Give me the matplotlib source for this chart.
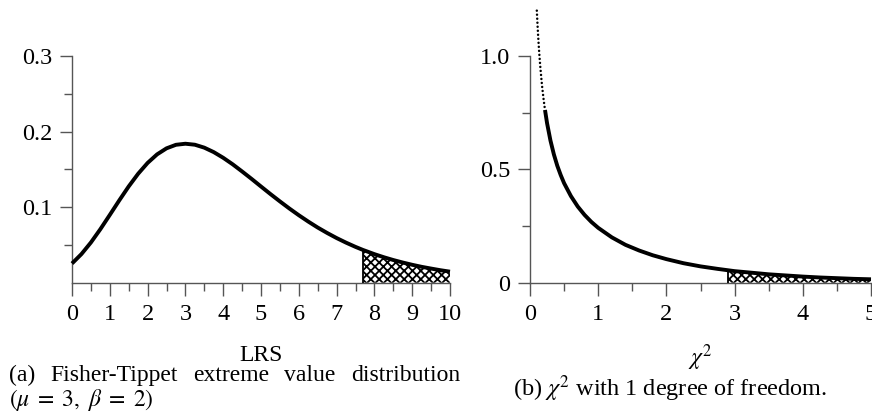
import matplotlib
matplotlib.use('Agg')
import matplotlib.pyplot as plt
from matplotlib.ticker import FixedLocator

plt.rcParams['font.family'] = ['Liberation Serif', 'DejaVu Serif']
plt.rcParams['mathtext.fontset'] = 'stix'
plt.rcParams['hatch.linewidth'] = 1.3

# ---------------- data ----------------
lrs_x = [0, 0.25, 0.5, 0.75, 1, 1.25, 1.5, 1.75, 2, 2.25, 2.5, 2.75, 3, 3.25,
         3.5, 3.75, 4, 4.25, 4.5, 4.75, 5, 5.25, 5.5, 5.75, 6, 6.25, 6.5, 6.75,
         7, 7.25, 7.5, 7.7, 7.75, 8, 8.25, 8.5, 8.75, 9, 9.25, 9.5, 9.75, 10]
lrs_density = [0.0254, 0.0379, 0.0532, 0.0708, 0.0897, 0.1089, 0.1274, 0.1442,
               0.1585, 0.1698, 0.1778, 0.1825, 0.1839, 0.1826, 0.1787, 0.1728,
               0.1653, 0.1567, 0.1472, 0.1374, 0.1273, 0.1173, 0.1076, 0.0982,
               0.0893, 0.0809, 0.0730, 0.0658, 0.0591, 0.0530, 0.0474, 0.0433,
               0.0424, 0.0378, 0.0337, 0.0300, 0.0267, 0.0237, 0.0210, 0.0187,
               0.0165, 0.0146]
lrs_threshold = 7.7
lrs_xticks = list(range(0, 11))
lrs_yticks = [0.1, 0.2, 0.3]
lrs_yticklabels = ['0.1', '0.2', '0.3']

chi_x = [0.10, 0.11, 0.12, 0.13, 0.14, 0.15, 0.17, 0.18, 0.20, 0.22, 0.25, 0.30,
         0.35, 0.40, 0.45, 0.5, 0.6, 0.7, 0.8, 0.9, 1.0, 1.2, 1.4, 1.6, 1.8,
         2.0, 2.25, 2.5, 2.75, 2.9, 3.0, 3.25, 3.5, 3.75, 4.0, 4.25, 4.5, 4.75, 5.0]
chi_density = [1.200, 1.139, 1.085, 1.037, 0.994, 0.956, 0.889, 0.859, 0.807,
               0.762, 0.704, 0.627, 0.566, 0.516, 0.475, 0.439, 0.382, 0.336,
               0.299, 0.268, 0.242, 0.200, 0.167, 0.142, 0.121, 0.104, 0.086,
               0.072, 0.061, 0.055, 0.051, 0.044, 0.037, 0.032, 0.027, 0.023,
               0.020, 0.017, 0.015]
chi_threshold = 2.9
chi_dotted_until = 0.22
chi_xticks = list(range(0, 6))
chi_yticks = [0, 0.5, 1.0]
chi_yticklabels = ['0', '0.5', '1.0']

# ---------------- layout ----------------
W, H = 872, 416
fig = plt.figure(figsize=(W / 100, H / 100), dpi=100)


def rect(l, t, r, b):
    return [l / W, 1 - b / H, (r - l) / W, (b - t) / H]


ax1 = fig.add_axes(rect(72, 56, 450, 282.7))
ax2 = fig.add_axes(rect(530, 56, 871, 282.7))

SPINE = '#555555'
TICKFS = 17.5
HATCH = 'xxxx'


def style(ax):
    for s in ('top', 'right'):
        ax.spines[s].set_visible(False)
    for s in ('left', 'bottom'):
        ax.spines[s].set_color(SPINE)
        ax.spines[s].set_linewidth(1.0)
    ax.tick_params(which='both', direction='out', color=SPINE, width=1.0,
                   labelsize=TICKFS, labelcolor='black')
    ax.tick_params(which='major', length=9)
    ax.tick_params(which='minor', length=5.5)
    ax.tick_params(axis='x', pad=6)
    ax.tick_params(axis='y', pad=5)
    ax.patch.set_alpha(0)


# ---- panel (a)
style(ax1)
ax1.set_xlim(0, 10)
ax1.set_ylim(0, 0.3)
ax1.xaxis.set_major_locator(FixedLocator(lrs_xticks))
ax1.set_xticklabels([str(t) for t in lrs_xticks])
ax1.xaxis.set_minor_locator(FixedLocator([t + 0.5 for t in lrs_xticks[:-1]]))
ax1.yaxis.set_major_locator(FixedLocator(lrs_yticks))
ax1.set_yticklabels(lrs_yticklabels)
ax1.yaxis.set_minor_locator(FixedLocator([0.05, 0.15, 0.25]))

sx = [x for x in lrs_x if x >= lrs_threshold]
sy = [y for x, y in zip(lrs_x, lrs_density) if x >= lrs_threshold]
ax1.fill_between(sx, 0, sy, facecolor='white', edgecolor='black',
                 hatch=HATCH, linewidth=0, zorder=2)
ax1.plot([sx[0], sx[0]], [0, sy[0]], color='black', lw=1.3, zorder=3)
ax1.plot(lrs_x, lrs_density, color='black', lw=2.8, zorder=4,
         solid_capstyle='butt', clip_on=False)

# ---- panel (b)
style(ax2)
ax2.set_xlim(0, 5)
ax2.set_ylim(0, 1.0)
ax2.xaxis.set_major_locator(FixedLocator(chi_xticks))
ax2.set_xticklabels([str(t) for t in chi_xticks])
ax2.xaxis.set_minor_locator(FixedLocator([t + 0.5 for t in chi_xticks[:-1]]))
ax2.yaxis.set_major_locator(FixedLocator(chi_yticks))
ax2.set_yticklabels(chi_yticklabels)
ax2.yaxis.set_minor_locator(FixedLocator([0.25, 0.75]))

sx = [x for x in chi_x if x >= chi_threshold]
sy = [y for x, y in zip(chi_x, chi_density) if x >= chi_threshold]
ax2.fill_between(sx, 0, sy, facecolor='white', edgecolor='black',
                 hatch=HATCH, linewidth=0, zorder=2)
ax2.plot([sx[0], sx[0]], [0, sy[0]], color='black', lw=1.3, zorder=3)

dx = [x for x in chi_x if x <= chi_dotted_until]
dy = [y for x, y in zip(chi_x, chi_density) if x <= chi_dotted_until]
ax2.plot(dx, dy, color='black', lw=1.8, linestyle=(0, (0.01, 1.6)),
         dash_capstyle='round', zorder=4, clip_on=False)
lx = [x for x in chi_x if x >= chi_dotted_until]
ly = [y for x, y in zip(chi_x, chi_density) if x >= chi_dotted_until]
ax2.plot(lx, ly, color='black', lw=2.8, zorder=4, solid_capstyle='butt',
         clip_on=False)

# ---- axis labels (placed in figure pixels)
fig.text(261 / W, 1 - 361 / H, 'LRS', fontsize=17, ha='center',
         va='baseline')
fig.text(700 / W, 1 - 365 / H, r'$\chi^2$', fontsize=17, ha='center',
         va='baseline')

# ---- captions
CAPFS = 17
words = ['(a)', 'Fisher-Tippet', 'extreme', 'value', 'distribution']
fig.canvas.draw()
renderer = fig.canvas.get_renderer()
texts = [fig.text(0, 1 - 381 / H, w, fontsize=CAPFS, ha='left',
                  va='baseline') for w in words]
widths = [t.get_window_extent(renderer).width for t in texts]
left_px, right_px = 9, 460
gap = (right_px - left_px - sum(widths)) / (len(words) - 1)
xpos = left_px
for t, w in zip(texts, widths):
    t.set_x(xpos / W)
    xpos += w + gap

fig.text(9 / W, 1 - 406 / H, r'$(\mu\;=\;3,\ \beta\;=\;2)$', fontsize=CAPFS,
         ha='left', va='baseline')
fig.text(670 / W, 1 - 396 / H, r'(b) $\chi^2$ with 1 degree of freedom.',
         fontsize=17.5, ha='center', va='baseline')

fig.savefig('out.png', dpi=100)
